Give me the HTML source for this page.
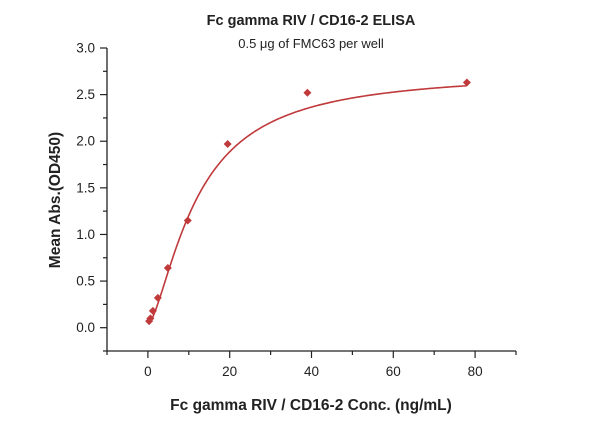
<!DOCTYPE html>
<html><head><meta charset="utf-8"><style>
body{margin:0;background:#fff;}
svg{display:block;font-family:"Liberation Sans","DejaVu Sans",sans-serif;}
</style></head><body>
<svg id="chart" width="600" height="421">
<text x="311" y="25" text-anchor="middle" font-size="14.5" font-weight="bold" fill="#222">Fc gamma RIV / CD16-2 ELISA</text>
<text x="311" y="48" text-anchor="middle" font-size="13" fill="#222">0.5 μg of FMC63 per well</text>
<text x="311" y="410" text-anchor="middle" font-size="15.5" font-weight="bold" fill="#222">Fc gamma RIV / CD16-2 Conc. (ng/mL)</text>
<text transform="translate(60,200) rotate(-90)" text-anchor="middle" font-size="15.5" font-weight="bold" fill="#222">Mean Abs.(OD450)</text>
<g id="axes"></g>
<g id="plot"></g>
</svg>
<script>
const xConc=[78,39,19.5,9.75,4.88,2.44,1.22,0.61,0.3];
const yAbs=[2.63,2.52,1.97,1.15,0.64,0.32,0.18,0.10,0.07];
const xTicks=[0,20,40,60,80];
const yTicks=[0.0,0.5,1.0,1.5,2.0,2.5,3.0];
const fitParams=[0.03,2.75,12,1.5]; // bottom, top, ec50, hill
const NS="http://www.w3.org/2000/svg";
const X0=107,X1=516,Y0=351,Y1=48,xmin=-10,xmax=90,ymin=-0.25,ymax=3.0;
const sx=v=>X0+(v-xmin)/(xmax-xmin)*(X1-X0);
const sy=v=>Y0-(v-ymin)/(ymax-ymin)*(Y0-Y1);
const axes=document.getElementById('axes'),plot=document.getElementById('plot');
function mk(t,a,p){const e=document.createElementNS(NS,t);for(const k in a)e.setAttribute(k,a[k]);p.appendChild(e);return e;}
const xl=mk('line',{x1:X0,y1:Y0,x2:X1,y2:Y0,stroke:'#222','stroke-width':1.3},axes);


const yl=mk('line',{x1:X0,y1:Y0,x2:X0,y2:Y1,stroke:'#222','stroke-width':1.3},axes);


for(let v=-10;v<=90;v+=10){const major=xTicks.includes(v);
 const t=mk('line',{x1:sx(v),y1:Y0,x2:sx(v),y2:Y0+(major?7:4),stroke:'#222','stroke-width':1.2},axes);
 
 }
xTicks.forEach(v=>{const t=mk('text',{x:sx(v),y:Y0+25,'text-anchor':'middle','font-size':13.5,fill:'#222'},axes);t.textContent=v;
 
 });
for(let v=-0.25;v<=3.001;v+=0.25){const major=Math.abs(v*2-Math.round(v*2))<1e-6;
 const t=mk('line',{x1:X0,y1:sy(v),x2:X0-(major?7:4),y2:sy(v),stroke:'#222','stroke-width':1.2},axes);
 
 }
yTicks.forEach(v=>{const t=mk('text',{x:X0-12,y:sy(v)+4.5,'text-anchor':'end','font-size':13.5,fill:'#222'},axes);t.textContent=v.toFixed(1);
 
 });
const [b,tp,ec,h]=fitParams;
const f=x=>b+(tp-b)*Math.pow(x,h)/(Math.pow(x,h)+Math.pow(ec,h));
let d='';const xs=Math.min(...xConc),xe=Math.max(...xConc);
for(let i=0;i<=300;i++){const x=xs+(xe-xs)*Math.pow(i/300,2);d+=(i?'L':'M')+sx(x).toFixed(2)+','+sy(f(x)).toFixed(2);}
const c=mk('path',{d:d,fill:'none',stroke:'#c0393b','stroke-width':1.6},plot);


xConc.forEach((x,i)=>{const cx=sx(x),cy=sy(yAbs[i]),r=4;
 const p=mk('polygon',{points:`${cx},${cy-r} ${cx+r},${cy} ${cx},${cy+r} ${cx-r},${cy}`,fill:'#c0393b'},plot);
 
 });
</script>
</body></html>
